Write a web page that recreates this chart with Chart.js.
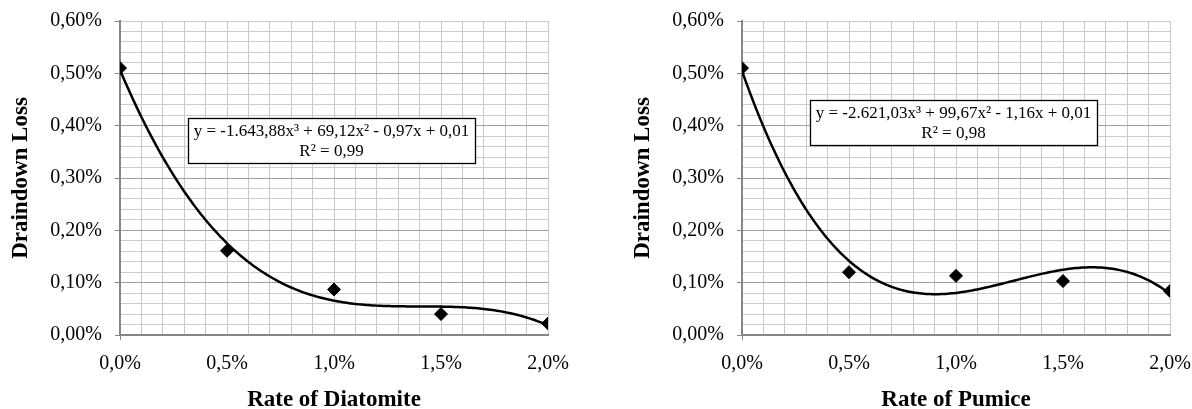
<!DOCTYPE html>
<html><head><meta charset="utf-8">
<script src="https://cdn.jsdelivr.net/npm/chart.js@4"></script>
<style>
html,body{margin:0;padding:0;background:#fff;overflow:hidden;width:1192px;height:409px}
canvas{position:absolute;top:0}
</style></head><body>
<canvas id="c1" width="570" height="409" style="left:0"></canvas>
<canvas id="c2" width="570" height="409" style="left:622px"></canvas>
<script>
// ---- data (percent units) ----
const rates = [0, 0.5, 1.0, 1.5, 2.0];
const diatomiteLoss = [0.51, 0.161, 0.087, 0.040, 0.022];
const pumiceLoss = [0.51, 0.120, 0.113, 0.103, 0.084];
const xTickLabels = ['0,0%', '0,5%', '1,0%', '1,5%', '2,0%'];
const yTickLabels = ['0,00%', '0,10%', '0,20%', '0,30%', '0,40%', '0,50%', '0,60%'];
const diatomiteTitle = 'Rate of Diatomite';
const pumiceTitle = 'Rate of Pumice';
const yTitle = 'Draindown Loss';
const diatomiteEq = ['y = -1.643,88x³ + 69,12x² - 0,97x + 0,01', 'R² = 0,99'];
const pumiceEq = ['y = -2.621,03x³ + 99,67x² - 1,16x + 0,01', 'R² = 0,98'];

// least-squares polynomial trendline (as the spreadsheet does)
function polyFit(xs, ys, deg) {
  const n = deg + 1;
  const A = [];
  for (let r = 0; r < n; r++) {
    A.push([]);
    for (let c = 0; c < n; c++) A[r].push(xs.reduce((s, x) => s + Math.pow(x, r + c), 0));
    A[r].push(xs.reduce((s, x, i) => s + ys[i] * Math.pow(x, r), 0));
  }
  for (let i = 0; i < n; i++) {
    let p = i;
    for (let k = i + 1; k < n; k++) if (Math.abs(A[k][i]) > Math.abs(A[p][i])) p = k;
    [A[i], A[p]] = [A[p], A[i]];
    for (let k = i + 1; k < n; k++) {
      const f = A[k][i] / A[i][i];
      for (let j = i; j <= n; j++) A[k][j] -= f * A[i][j];
    }
  }
  const c = new Array(n).fill(0);
  for (let i = n - 1; i >= 0; i--) {
    let s = A[i][n];
    for (let j = i + 1; j < n; j++) s -= A[i][j] * c[j];
    c[i] = s / A[i][i];
  }
  return c;
}
function trendPoints(xs, ys) {
  const c = polyFit(xs, ys, 3);
  const pts = [];
  const x0 = xs[0], x1 = xs[xs.length - 1];
  for (let i = 0; i <= 200; i++) {
    const x = x0 + (x1 - x0) * i / 200;
    pts.push({x, y: c[0] + c[1] * x + c[2] * x * x + c[3] * x * x * x});
  }
  return pts;
}

const eqPlugin = {
  id: 'eq',
  afterDatasetsDraw(chart, args, opts) {
    const {ctx, chartArea} = chart;
    const x = chartArea.left + opts.left, y = chartArea.top + opts.top;
    ctx.save();
    ctx.fillStyle = '#fff';
    ctx.fillRect(x, y, opts.width, opts.height);
    ctx.strokeStyle = '#000';
    ctx.lineWidth = 1.3;
    ctx.strokeRect(x + 0.5, y + 0.5, opts.width, opts.height);
    ctx.fillStyle = '#000';
    ctx.font = '17px "Liberation Serif", "Times New Roman", serif';
    ctx.textAlign = 'center';
    ctx.textBaseline = 'middle';
    opts.lines.forEach((t, i) => ctx.fillText(t, x + opts.width / 2, y + 14 + i * 19.5));
    ctx.restore();
  }
};

function noPad(s) { s.paddingLeft = 0; s.paddingRight = 0; s.paddingTop = 0; s.paddingBottom = 0; }

function makeChart(id, losses, xTitle, eq, boxTop) {
  const pts = rates.map((r, i) => ({x: r, y: losses[i]}));
  new Chart(document.getElementById(id), {
    type: 'scatter',
    data: {
      datasets: [
        {type: 'line', data: trendPoints(rates, losses), borderColor: '#000', borderWidth: 2.5,
         pointRadius: 0, tension: 0, fill: false, order: 2},
        {data: pts, pointStyle: 'rectRot', pointRadius: 6.5, backgroundColor: '#000',
         borderColor: '#000', borderWidth: 1, order: 1}
      ]
    },
    plugins: [eqPlugin],
    options: {
      responsive: false, animation: false, events: [],
      layout: {padding: {left: 0, right: 22, top: 21, bottom: 0}},
      plugins: {
        legend: {display: false}, tooltip: {enabled: false},
        eq: {left: 68, top: boxTop, width: 287, height: 45, lines: eq}
      },
      scales: {
        x: {
          type: 'linear', min: 0, max: 2,
          afterFit(s) { s.height = 74; noPad(s); },
          ticks: {
            stepSize: 0.1, autoSkip: false, maxRotation: 0, padding: 12, color: '#000',
            font: {family: '"Liberation Serif", "Times New Roman", serif', size: 20},
            callback(v) { const k = Math.round(v * 10); return k % 5 === 0 ? xTickLabels[k / 5] : ''; }
          },
          grid: {
            color: '#c8c8c8', lineWidth: 1, drawTicks: true, tickLength: 5,
            tickColor(c) { const k = Math.round(c.tick.value * 10); return k === 0 ? '#868686' : 'rgba(0,0,0,0)'; }
          },
          border: {color: '#868686', width: 2},
          title: {display: true, text: xTitle, color: '#000', padding: {top: 0, bottom: -5},
            font: {family: '"Liberation Serif", "Times New Roman", serif', size: 23, weight: 'bold'}}
        },
        y: {
          type: 'linear', min: 0, max: 0.6,
          afterFit(s) { s.width = 120; noPad(s); },
          ticks: {
            stepSize: 0.02, autoSkip: false, padding: 13, color: '#000',
            font: {family: '"Liberation Serif", "Times New Roman", serif', size: 20},
            callback(v) { const k = Math.round(v * 50); return k % 5 === 0 ? yTickLabels[k / 5] : ''; }
          },
          grid: {
            lineWidth: 1, drawTicks: true, tickLength: 5,
            color(c) { const k = Math.round(c.tick.value * 50); return (k % 5 === 0 && k !== 30) ? '#a0a0a0' : '#cccccc'; },
            tickColor(c) { const k = Math.round(c.tick.value * 50); return k % 5 === 0 ? '#868686' : 'rgba(0,0,0,0)'; }
          },
          border: {color: '#868686', width: 2},
          title: {display: true, text: yTitle, color: '#000', padding: {top: 7, bottom: 0},
            font: {family: '"Liberation Serif", "Times New Roman", serif', size: 23, weight: 'bold'}}
        }
      }
    }
  });
}
makeChart('c1', diatomiteLoss, diatomiteTitle, diatomiteEq, 97);
makeChart('c2', pumiceLoss, pumiceTitle, pumiceEq, 79);
</script>
</body></html>
